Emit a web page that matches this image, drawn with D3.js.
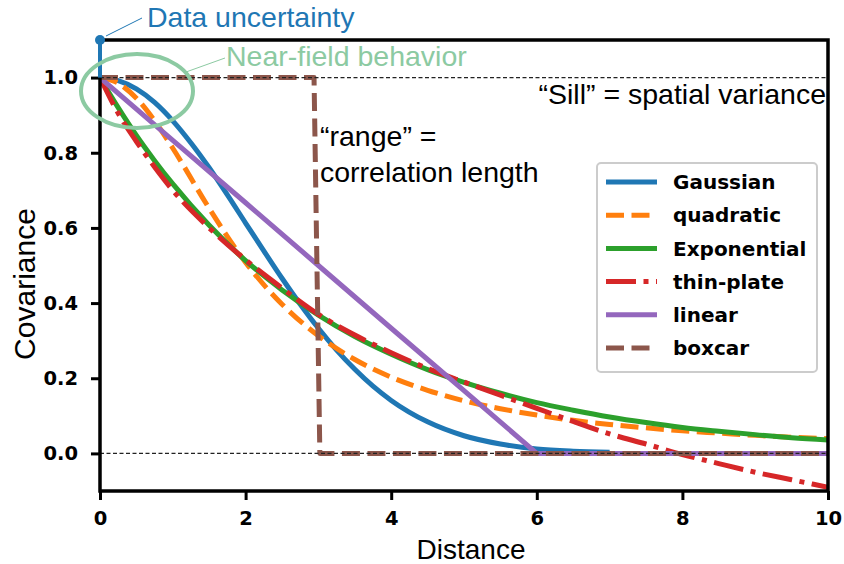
<!DOCTYPE html>
<html>
<head>
<meta charset="utf-8">
<script src="https://cdn.jsdelivr.net/npm/d3@7"></script>
<style>
  html, body { margin: 0; padding: 0; background: #fff; }
  svg { display: block; }
</style>
</head>
<body>
<svg id="chart" width="844" height="564"></svg>
<script>
// ---------- data ----------
const seriesNames = ["Gaussian", "quadratic", "Exponential", "thin-plate", "linear", "boxcar"];
const xTicks = [0, 2, 4, 6, 8, 10];
const yTicks = [0.0, 0.2, 0.4, 0.6, 0.8, 1.0];

const gaussX = [0, 0.25, 0.5, 0.75, 1, 1.25, 1.5, 1.75, 2, 2.25, 2.5, 2.75, 3, 3.25, 3.5, 3.75, 4, 4.5, 5, 5.5, 6, 6.5, 7];
const gaussY = [1, 0.992, 0.970, 0.934, 0.885, 0.826, 0.760, 0.688, 0.613, 0.539, 0.466, 0.397, 0.333, 0.275, 0.224, 0.179, 0.141, 0.084, 0.047, 0.025, 0.012, 0.006, 0.003];

const quadX = [0, 0.25, 0.5, 0.75, 1, 1.5, 2, 2.5, 3, 3.5, 4, 4.5, 5, 5.5, 6, 6.5, 7, 7.5, 8, 8.5, 9, 9.5, 10];
const quadY = [1, 0.985, 0.945, 0.885, 0.812, 0.652, 0.508, 0.397, 0.313, 0.250, 0.203, 0.168, 0.140, 0.119, 0.102, 0.088, 0.077, 0.068, 0.060, 0.054, 0.048, 0.043, 0.039];

const expX = [0, 0.25, 0.5, 0.75, 1, 1.5, 2, 2.5, 3, 3.5, 4, 4.5, 5, 5.5, 6, 6.5, 7, 7.5, 8, 8.5, 9, 9.5, 10];
const expY = [1, 0.920, 0.846, 0.779, 0.717, 0.607, 0.513, 0.435, 0.368, 0.311, 0.264, 0.223, 0.189, 0.160, 0.135, 0.115, 0.097, 0.082, 0.069, 0.059, 0.050, 0.042, 0.036];

const tpsX = [0, 0.25, 0.5, 0.75, 1, 1.5, 2, 2.5, 3, 3.5, 4, 4.5, 5, 5.5, 6, 6.5, 7, 7.5, 8, 8.5, 9, 9.5, 10];
const tpsY = [1, 0.905, 0.830, 0.762, 0.700, 0.600, 0.515, 0.440, 0.370, 0.315, 0.268, 0.226, 0.190, 0.155, 0.120, 0.085, 0.052, 0.025, -0.003, -0.027, -0.050, -0.070, -0.090];

const linX = [0, 1, 2, 3, 4, 5, 6, 7, 8, 9, 10];
const linY = [1, 0.833, 0.667, 0.5, 0.333, 0.167, 0, 0, 0, 0, 0];

const boxX = [0, 2.94, 3.02, 10];
const boxY = [1, 1, 0, 0];

const sill = 1.0;
const nugget = 1.1;

// ---------- layout ----------
const svg = d3.select("#chart");
const L = 100, R = 828, T = 40, B = 491;
const x = d3.scaleLinear().domain([0, 10]).range([L, R]);
const y = d3.scaleLinear().domain([-0.1, 1.1]).range([B, T]);

const colors = ["#1f77b4", "#ff7f0e", "#2ca02c", "#d62728", "#9467bd", "#8c564b"];
const dashes = [null, "18 7.5", null, "30 7.5 5 7.5", null, "18 7.5"];
const LW = 5;

const series = [
  [gaussX, gaussY], [quadX, quadY], [expX, expY], [tpsX, tpsY], [linX, linY], [boxX, boxY]
];

svg.append("defs").append("clipPath").attr("id", "clip")
  .append("rect").attr("x", L).attr("y", T).attr("width", R - L).attr("height", B - T);

const plot = svg.append("g").attr("clip-path", "url(#clip)");

const line = d3.line().x(d => x(d[0])).y(d => y(d[1])).curve(d3.curveMonotoneX);
const lineLin = d3.line().x(d => x(d[0])).y(d => y(d[1]));

series.forEach((s, i) => {
  const pts = s[0].map((v, k) => [v, s[1][k]]);
  plot.append("path")
    .attr("d", (i >= 4 ? lineLin : line)(pts))
    .attr("fill", "none")
    .attr("stroke", colors[i])
    .attr("stroke-width", LW)
    .attr("stroke-dasharray", dashes[i])
    .attr("stroke-linejoin", "round");
});

// reference dashed lines (sill and zero)
[sill, 0].forEach(v => {
  plot.append("line")
    .attr("x1", L).attr("x2", R).attr("y1", y(v)).attr("y2", y(v))
    .attr("stroke", "#222").attr("stroke-width", 1.2).attr("stroke-dasharray", "4 2.5");
});

// axes
const xAxis = d3.axisBottom(x).tickValues(xTicks).tickFormat(d3.format("d")).tickSize(9).tickPadding(11);
const yAxis = d3.axisLeft(y).tickValues(yTicks).tickFormat(d3.format(".1f")).tickSize(9).tickPadding(13);

const gx = svg.append("g").attr("transform", `translate(0,${B})`).call(xAxis);
const gy = svg.append("g").attr("transform", `translate(${L},0)`).call(yAxis);
[gx, gy].forEach(g => {
  g.select(".domain").remove();
  g.selectAll(".tick line").attr("stroke", "#000").attr("stroke-width", 3);
  g.selectAll(".tick text")
    .attr("fill", "#000")
    .style("font-family", "'DejaVu Sans', sans-serif")
    .style("font-weight", "bold")
    .style("font-size", "19.5px");
});

// frame
svg.append("rect")
  .attr("x", L).attr("y", T).attr("width", R - L).attr("height", B - T)
  .attr("fill", "none").attr("stroke", "#000").attr("stroke-width", 3.5);

// axis labels
svg.append("text")
  .attr("x", 471).attr("y", 559)
  .attr("text-anchor", "middle")
  .style("font-family", "'Liberation Sans', Arial, sans-serif")
  .style("font-size", "28px")
  .text("Distance");

svg.append("text")
  .attr("transform", "translate(35,284) rotate(-90)")
  .attr("text-anchor", "middle")
  .style("font-family", "'Liberation Sans', Arial, sans-serif")
  .style("font-size", "30px")
  .text("Covariance");

// data uncertainty (nugget) marker
svg.append("line")
  .attr("x1", x(0)).attr("x2", x(0)).attr("y1", y(sill)).attr("y2", y(nugget))
  .attr("stroke", colors[0]).attr("stroke-width", 4);
svg.append("circle")
  .attr("cx", x(0)).attr("cy", y(nugget)).attr("r", 5).attr("fill", colors[0]);
svg.append("line")
  .attr("x1", 106).attr("y1", 36).attr("x2", 142).attr("y2", 18)
  .attr("stroke", colors[0]).attr("stroke-width", 1);
svg.append("text")
  .attr("x", 147).attr("y", 27)
  .attr("fill", colors[0])
  .style("font-family", "'Liberation Sans', Arial, sans-serif")
  .style("font-size", "28.5px")
  .text("Data uncertainty");

// near-field ellipse
const nf = "#8ccaa2";
svg.append("ellipse")
  .attr("cx", 137).attr("cy", 91).attr("rx", 56).attr("ry", 37)
  .attr("fill", "none").attr("stroke", nf).attr("stroke-width", 4);
svg.append("line")
  .attr("x1", 186).attr("y1", 72).attr("x2", 225).attr("y2", 58)
  .attr("stroke", nf).attr("stroke-width", 1);
svg.append("text")
  .attr("x", 226).attr("y", 66)
  .attr("fill", nf)
  .style("font-family", "'Liberation Sans', Arial, sans-serif")
  .style("font-size", "28.5px")
  .text("Near-field behavior");

// text annotations
const ann = svg.append("g")
  .style("font-family", "'Liberation Sans', Arial, sans-serif")
  .style("font-size", "28.5px")
  .attr("fill", "#000");
ann.append("text").attr("x", 826).attr("y", 104).attr("text-anchor", "end").text("\u201cSill\u201d = spatial variance");
ann.append("text").attr("x", 320).attr("y", 146).text("\u201crange\u201d =");
ann.append("text").attr("x", 320).attr("y", 182).text("correlation length");

// legend
const lg = svg.append("g");
lg.append("rect")
  .attr("x", 597).attr("y", 163).attr("width", 220).attr("height", 209)
  .attr("rx", 4).attr("fill", "#fff").attr("fill-opacity", 0.85)
  .attr("stroke", "#cccccc").attr("stroke-width", 2);
seriesNames.forEach((name, i) => {
  const cy = 182 + i * 33.2;
  lg.append("line")
    .attr("x1", 606).attr("x2", 657).attr("y1", cy).attr("y2", cy)
    .attr("stroke", colors[i]).attr("stroke-width", LW)
    .attr("stroke-dasharray", dashes[i]);
  lg.append("text")
    .attr("x", 673).attr("y", cy).attr("dy", "0.36em")
    .style("font-family", "'DejaVu Sans', sans-serif")
    .style("font-weight", "bold")
    .style("font-size", "20px")
    .text(name);
});
</script>
</body>
</html>
